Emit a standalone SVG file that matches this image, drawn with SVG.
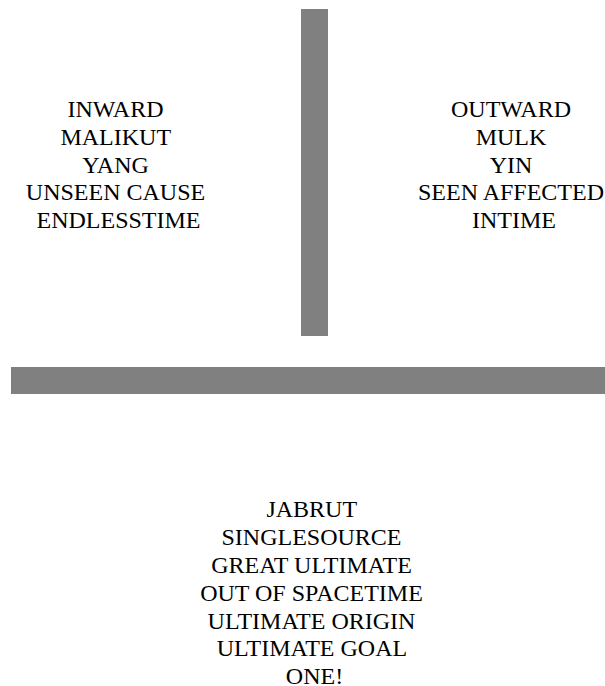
<svg xmlns="http://www.w3.org/2000/svg" width="605" height="686" viewBox="0 0 605 686">
<style>
.bar{fill:#808080}
.t{font-family:"Liberation Serif","Times New Roman",serif;font-size:24px;fill:#000;text-anchor:middle}
</style>
<rect width="605" height="686" fill="#fff"/>
<g id="dividers">
<rect class="bar" x="301" y="9" width="27" height="327"/>
<rect class="bar" x="11" y="367" width="594" height="27"/>
</g>
<g id="inward">
<text class="t" x="118.5" y="117">
<tspan x="118.5" y="117">INWARD</tspan>
<tspan x="118.5" y="144.8">MALIKUT</tspan>
<tspan x="118.5" y="172.6">YANG</tspan>
<tspan x="118.5" y="200.4">UNSEEN CAUSE</tspan>
<tspan x="118.5" y="228.2">ENDLESSTIME</tspan>
</text>
</g>
<g id="outward">
<text class="t" x="514" y="117">
<tspan x="514" y="117">OUTWARD</tspan>
<tspan x="514" y="144.8">MULK</tspan>
<tspan x="514" y="172.6">YIN</tspan>
<tspan x="514" y="200.4">SEEN AFFECTED</tspan>
<tspan x="514" y="228.2">INTIME</tspan>
</text>
</g>
<g id="jabrut">
<text class="t" x="314.5" y="517.3">
<tspan x="314.5" y="517.3">JABRUT</tspan>
<tspan x="314.5" y="545.1">SINGLESOURCE</tspan>
<tspan x="314.5" y="572.9">GREAT ULTIMATE</tspan>
<tspan x="314.5" y="600.7">OUT OF SPACETIME</tspan>
<tspan x="314.5" y="628.5">ULTIMATE ORIGIN</tspan>
<tspan x="314.5" y="656.3">ULTIMATE GOAL</tspan>
<tspan x="314.5" y="684.1">ONE!</tspan>
</text>
</g>
</svg>
